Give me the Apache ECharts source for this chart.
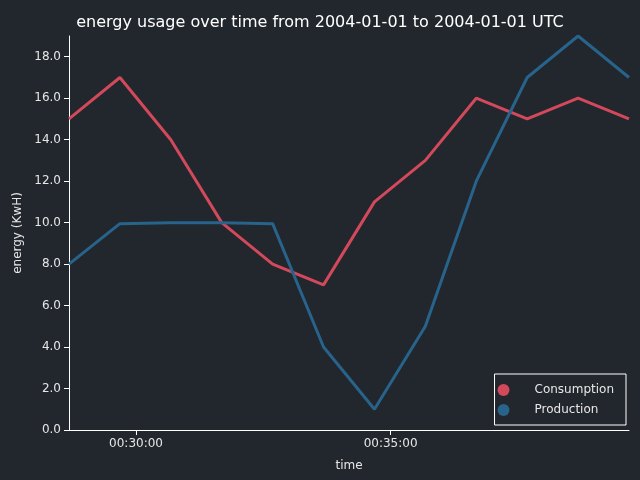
<!doctype html>
<html>
<head>
	<meta charset="utf-8">
	<title>energy usage</title>
	<script src="https://cdn.jsdelivr.net/npm/echarts@6/dist/echarts.min.js"></script>
	<style>
		html, body { margin: 0; padding: 0; background: #22262d; }
		#main { width: 640px; height: 480px; }
	</style>
</head>
<body>
	<div id="main"></div>
	<script type="text/javascript">
		// sample times (UTC, 2004-01-01)
		var times = ['00:28:41', '00:29:41', '00:30:41', '00:31:41', '00:32:41', '00:33:41',
			'00:34:41', '00:35:41', '00:36:41', '00:37:41', '00:38:41', '00:39:41'];
		var consumption = [15, 17, 14, 10, 8, 7, 11, 13, 16, 15, 16, 15];
		var production = [8, 9.95, 10, 10, 9.95, 4, 1, 5, 12, 17, 19, 17];
		var xTicks = ['00:30:00', '00:35:00'];
		var yTicks = [0, 2, 4, 6, 8, 10, 12, 14, 16, 18];

		function ts(t) {
			return Date.parse('2004-01-01T' + t + 'Z');
		}
		function pad(n) {
			return (n < 10 ? '0' : '') + n;
		}

		var font = 'DejaVu Sans';
		var chart = echarts.init(document.getElementById('main'));

		var option = {
			backgroundColor: '#22262d',
			animation: false,
			title: {
				text: 'energy usage over time from 2004-01-01 to 2004-01-01 UTC',
				left: 'center',
				top: 10,
				textStyle: { color: '#ffffff', fontSize: 16, fontWeight: 'normal', fontFamily: font }
			},
			grid: { left: 69, right: 11, top: 36, bottom: 50 },
			legend: {
				orient: 'vertical',
				right: 14,
				bottom: 55,
				icon: 'circle',
				itemWidth: 12,
				itemHeight: 12,
				itemGap: 8,
				padding: [10, 12, 9, 3],
				borderColor: '#ffffff',
				borderWidth: 1,
				textStyle: { color: '#e6e6e6', fontSize: 12, fontFamily: font, padding: [0, 0, 0, 20] },
				data: ['Consumption', 'Production']
			},
			xAxis: {
				type: 'value',
				min: ts(times[0]),
				max: ts(times[times.length - 1]),
				name: 'time',
				nameLocation: 'middle',
				nameGap: 30,
				nameTextStyle: { color: '#e6e6e6', fontSize: 12, fontFamily: font },
				axisLine: { lineStyle: { color: '#ffffff', width: 1 } },
				axisTick: { show: true, length: 5, lineStyle: { color: '#ffffff' }, customValues: xTicks.map(ts) },
				axisLabel: {
					color: '#e6e6e6', fontSize: 12, fontFamily: font, margin: 8,
					customValues: xTicks.map(ts),
					formatter: function (v) {
						var d = new Date(v);
						return pad(d.getUTCHours()) + ':' + pad(d.getUTCMinutes()) + ':' + pad(d.getUTCSeconds());
					}
				},
				splitLine: { show: false }
			},
			yAxis: {
				type: 'value',
				min: 0,
				max: 19,
				name: 'energy (KwH)',
				nameLocation: 'middle',
				nameGap: 44,
				nameTextStyle: { color: '#e6e6e6', fontSize: 12, fontFamily: font },
				axisLine: { show: true, lineStyle: { color: '#ffffff', width: 1 } },
				axisTick: { show: true, length: 5, lineStyle: { color: '#ffffff' }, customValues: yTicks },
				axisLabel: {
					color: '#e6e6e6', fontSize: 12, fontFamily: font, margin: 8,
					customValues: yTicks,
					formatter: function (v) { return v.toFixed(1); }
				},
				splitLine: { show: false }
			},
			series: [{
				name: 'Consumption',
				type: 'line',
				showSymbol: false,
				color: '#d1495b',
				lineStyle: { width: 3 },
				data: times.map(function (t, i) { return [ts(t), consumption[i]]; })
			}, {
				name: 'Production',
				type: 'line',
				showSymbol: false,
				color: '#27638a',
				lineStyle: { width: 3 },
				data: times.map(function (t, i) { return [ts(t), production[i]]; })
			}]
		};

		chart.setOption(option);
	</script>
</body>
</html>
